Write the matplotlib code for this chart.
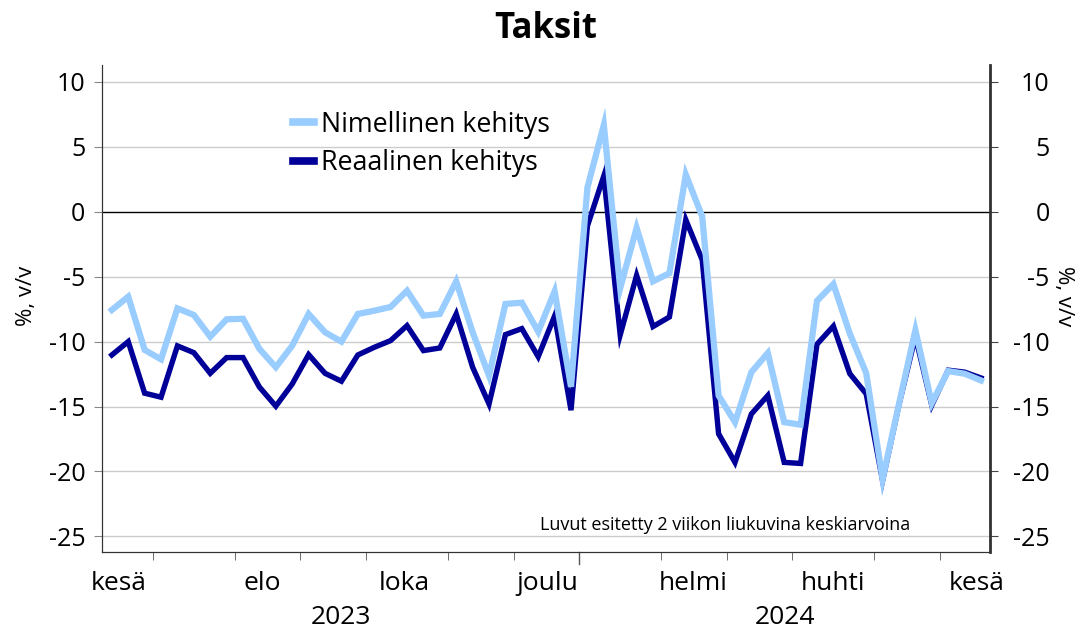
import matplotlib
matplotlib.use("Agg")
import matplotlib.pyplot as plt
import matplotlib.transforms as mtransforms
import numpy as np
import pandas as pd

# weekly observations (Mondays), 2 week moving average, % y/y
weeks = pd.date_range("2023-06-12", periods=54, freq="7D")

nimellinen = [-7.56, -6.54, -10.64, -11.36, -7.44, -7.95, -9.62, -8.28, -8.24, -10.56,
              -11.97, -10.31, -7.87, -9.28, -10.0, -7.87, -7.62, -7.33, -6.08, -8.0,
              -7.87, -5.36, -9.28, -12.62, -7.1, -7.0, -9.23, -6.13, -13.48, 1.86,
              6.68, -5.88, -1.24, -5.36, -4.73, 2.86, -0.36, -14.15, -16.2, -12.35,
              -10.88, -16.2, -16.4, -6.86, -5.57, -9.38, -12.42, -20.6, -14.8, -9.12,
              -14.74, -12.27, -12.47, -12.99]

reaalinen = [-11.03, -10.0, -13.97, -14.28, -10.33, -10.85, -12.44, -11.23, -11.23, -13.5,
             -14.97, -13.26, -11.0, -12.44, -13.05, -11.03, -10.44, -9.92, -8.77, -10.69,
             -10.49, -7.87, -11.97, -14.8, -9.46, -9.0, -11.16, -8.02, -15.28, -1.1,
             2.76, -9.48, -4.9, -8.84, -8.1, -0.62, -3.71, -17.1, -19.3, -15.57,
             -14.15, -19.3, -19.38, -10.2, -8.81, -12.47, -14.02, -20.7, -14.85, -9.6,
             -14.9, -12.2, -12.35, -12.8]

month_labels = ["kesä", "elo", "loka", "joulu", "helmi", "huhti", "kesä"]
month_label_dates = ["2023-06-15", "2023-08-15", "2023-10-15", "2023-12-15",
                     "2024-02-15", "2024-04-15", "2024-06-15"]
yticks = [10, 5, 0, -5, -10, -15, -20, -25]

plt.rcParams["font.family"] = ["Open Sans", "DejaVu Sans"]
plt.rcParams["axes.unicode_minus"] = False

LIGHT = "#99ccff"
DARK = "#000099"

fig = plt.figure(figsize=(10.82, 6.32), dpi=100)
ax = fig.add_axes([102 / 1082, 80 / 632, 888 / 1082, 487 / 632])

x = np.arange(len(weeks))
xmin, xmax = -0.6, len(weeks) - 0.45
ax.set_xlim(xmin, xmax)
ax.set_ylim(-26.2, 11.3)

for v in yticks:
    if v != 0:
        ax.axhline(v, color="#cccccc", lw=1, zorder=1)
ax.axhline(0, color="black", lw=1, zorder=2)

ax.plot(x, reaalinen, color=DARK, lw=3.9, zorder=3, solid_joinstyle="miter",
        label="Reaalinen kehitys")
ax.plot(x, nimellinen, color=LIGHT, lw=4.5, zorder=4, solid_joinstyle="miter",
        label="Nimellinen kehitys")

handles, labels = ax.get_legend_handles_labels()
leg = ax.legend(handles[::-1], labels[::-1], loc="center left",
                bbox_to_anchor=(0.2, 0.838), frameon=False, fontsize=19.3,
                borderpad=0, handlelength=0.8, handletextpad=0.25, labelspacing=0.38)
for line in leg.get_lines():
    line.set_linewidth(5.5)

ax.text(0.91, 0.055, "Luvut esitetty 2 viikon liukuvina keskiarvoina",
        transform=ax.transAxes, ha="right", va="center", fontsize=13)

# y axes on both sides
ax.set_yticks(yticks)
ax.tick_params(axis="y", length=6, color="#888888", labelsize=18, pad=6)
ax.set_ylabel("%, v/v", fontsize=16)
ax.yaxis.set_label_coords(-0.073, 0.525)
rax = ax.twinx()
rax.set_ylim(ax.get_ylim())
rax.set_yticks(yticks)
rax.tick_params(axis="y", length=6, color="#444444", labelsize=18, pad=37)
for lab in rax.get_yticklabels():
    lab.set_horizontalalignment("right")
rax.set_ylabel("%, v/v", fontsize=16, rotation=270, va="center")
rax.yaxis.set_label_coords(1.083, 0.525)

# x axis: month boundaries, labels in between, years below
bounds = [i - 0.5 for i in range(1, len(weeks)) if weeks[i].month != weeks[i - 1].month]
year_bounds = [i - 0.5 for i in range(1, len(weeks)) if weeks[i].year != weeks[i - 1].year]
month_bounds = [b for b in bounds if b not in year_bounds]
label_pos = [(pd.Timestamp(d) - weeks[0]).days / 7 for d in month_label_dates]

ax.set_xticks(label_pos)
ax.set_xticklabels(month_labels)
ax.tick_params(axis="x", which="major", length=0, labelsize=19, pad=14)
ax.set_xticks(month_bounds + year_bounds, minor=True)
ax.tick_params(axis="x", which="minor", length=6, color="#555555")
trans = mtransforms.blended_transform_factory(ax.transData, fig.transFigure)
for yb in year_bounds:
    ax.plot([yb, yb], [80 / 632, 68 / 632], transform=trans, color="#555555",
            lw=1, clip_on=False)

year_edges = [xmin] + year_bounds + [xmax]
years = [str(weeks[0].year + k) for k in range(len(year_edges) - 1)]
for k, yr in enumerate(years):
    ax.text((year_edges[k] + year_edges[k + 1]) / 2, 15 / 632, yr, transform=trans,
            ha="center", va="center", fontsize=19)

for side in ["left", "right", "bottom"]:
    ax.spines[side].set_color("#333333")
    rax.spines[side].set_color("#333333")
rax.spines["right"].set_linewidth(2)
ax.spines["top"].set_visible(False)
rax.spines["top"].set_visible(False)

fig.suptitle("Taksit", x=546 / 1082, y=0.982, fontsize=25, fontweight="bold")

fig.savefig("out.png", dpi=100)
